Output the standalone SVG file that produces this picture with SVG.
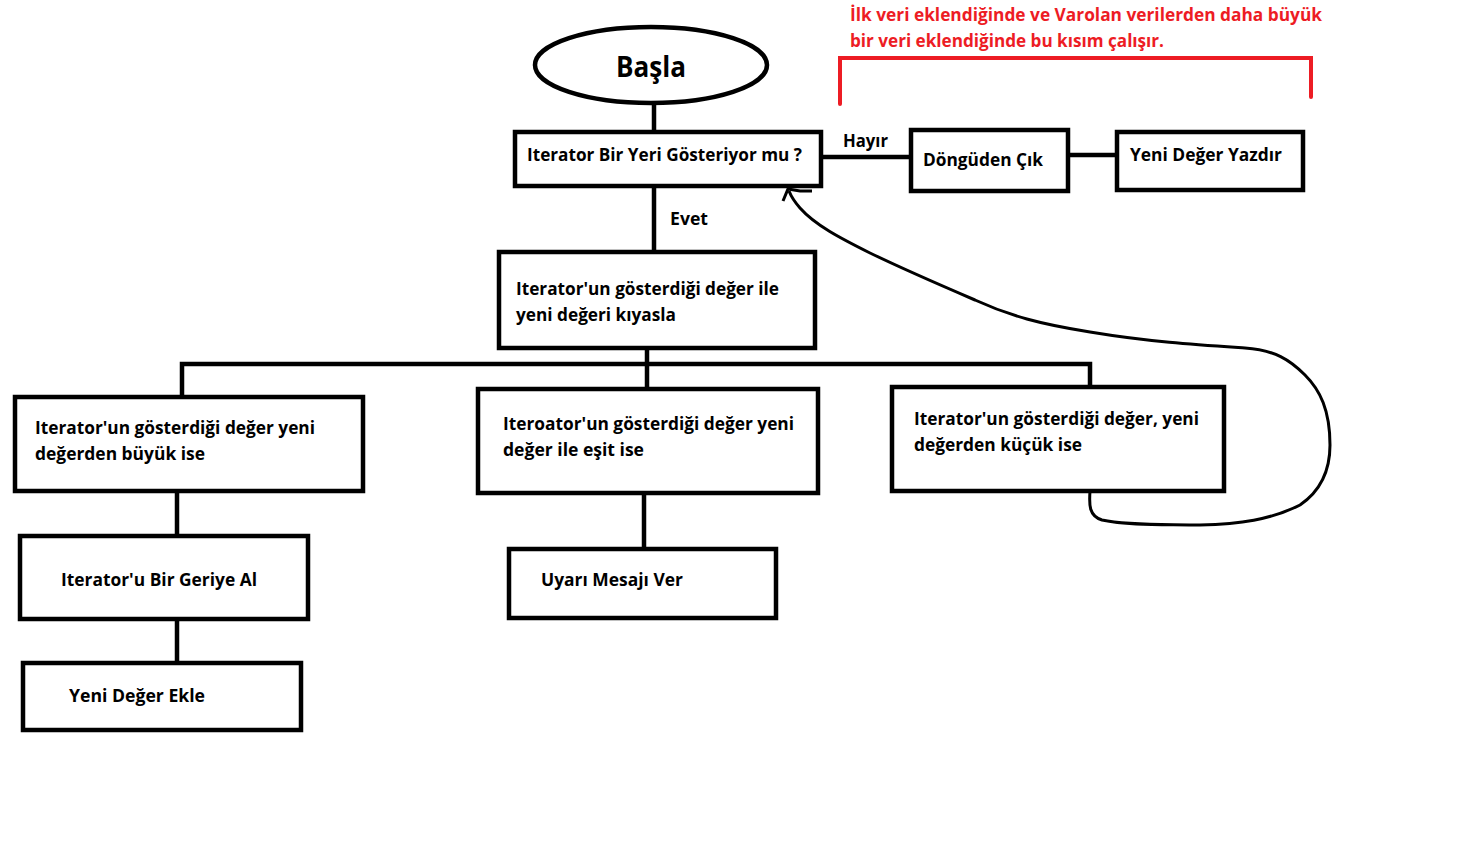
<svg xmlns="http://www.w3.org/2000/svg" width="1476" height="862" viewBox="0 0 1476 862">
<style>
.box{fill:#fff;stroke:#000;stroke-width:4.5}
.ln{fill:none;stroke:#000;stroke-width:4.5}
.t{font-family:"Open Sans","Noto Sans","Liberation Sans",sans-serif;font-weight:700;font-size:18px;fill:#000}
.r{font-family:"Open Sans","Noto Sans","Liberation Sans",sans-serif;font-weight:700;font-size:18px;fill:#ed1c24}
</style>
<rect width="1476" height="862" fill="#fff"/>
<g id="connectors">
<path class="ln" d="M654 103V132"/>
<path class="ln" d="M821 157H911"/>
<path class="ln" d="M1068 155H1117"/>
<path class="ln" d="M654 186V252"/>
<path class="ln" d="M647 348V389"/>
<path class="ln" d="M182 397V364H1090V387"/>
<path class="ln" d="M177 491V536"/>
<path class="ln" d="M177 619V663"/>
<path class="ln" d="M644 493V549"/>
<path fill="none" stroke="#000" stroke-width="3" stroke-linejoin="round" d="M1090 491C1089 505 1089 516 1102 520C1130 526 1170 524 1200 525C1240 524 1270 520 1300 505C1322 490 1330 470 1330 445C1330 410 1320 390 1305 375C1290 360 1275 350 1245 348C1200 345 1150 342 1090 332C1040 324 1010 316 975 300C940 285 905 270 870 253C840 238 815 225 800 208C793 200 791 196 789 191"/>
<path fill="none" stroke="#000" stroke-width="3" d="M783 201L788 189L800 191L812 191"/>
<text class="t" x="843" y="147" textLength="45" lengthAdjust="spacingAndGlyphs">Hayır</text>
<text class="t" x="670" y="225" textLength="38" lengthAdjust="spacingAndGlyphs">Evet</text>
</g>
<g id="note">
<path fill="none" stroke="#ed1c24" stroke-width="4" stroke-linecap="round" d="M840 104V58H1311V97"/>
<text class="r" x="850" y="21" textLength="472" lengthAdjust="spacingAndGlyphs">İlk veri eklendiğinde ve Varolan verilerden daha büyük</text>
<text class="r" x="850" y="47" textLength="314" lengthAdjust="spacingAndGlyphs">bir veri eklendiğinde bu kısım çalışır.</text>
</g>
<g id="basla">
<ellipse class="box" cx="651" cy="65" rx="116" ry="38"/>
<text class="t" x="616" y="77" font-size="28" textLength="70" lengthAdjust="spacingAndGlyphs" style="font-size:28px">Başla</text>
</g>
<g id="kontrol">
<rect class="box" x="515" y="132" width="306" height="54"/>
<text class="t" x="527" y="161" textLength="275" lengthAdjust="spacingAndGlyphs">Iterator Bir Yeri Gösteriyor mu ?</text>
</g>
<g id="dongu">
<rect class="box" x="911" y="130" width="157" height="61"/>
<text class="t" x="923" y="166" textLength="120" lengthAdjust="spacingAndGlyphs">Döngüden Çık</text>
</g>
<g id="yazdir">
<rect class="box" x="1117" y="132" width="186" height="58"/>
<text class="t" x="1130" y="161" textLength="152" lengthAdjust="spacingAndGlyphs">Yeni Değer Yazdır</text>
</g>
<g id="kiyasla">
<rect class="box" x="499" y="252" width="316" height="96"/>
<text class="t" x="516" y="295" textLength="263" lengthAdjust="spacingAndGlyphs">Iterator'un gösterdiği değer ile</text>
<text class="t" x="516" y="321" textLength="160" lengthAdjust="spacingAndGlyphs">yeni değeri kıyasla</text>
</g>
<g id="buyuk">
<rect class="box" x="15" y="397" width="348" height="94"/>
<text class="t" x="35" y="434" textLength="280" lengthAdjust="spacingAndGlyphs">Iterator'un gösterdiği değer yeni</text>
<text class="t" x="35" y="460" textLength="170" lengthAdjust="spacingAndGlyphs">değerden büyük ise</text>
</g>
<g id="esit">
<rect class="box" x="478" y="389" width="340" height="104"/>
<text class="t" x="503" y="430" textLength="291" lengthAdjust="spacingAndGlyphs">Iteroator'un gösterdiği değer yeni</text>
<text class="t" x="503" y="456" textLength="141" lengthAdjust="spacingAndGlyphs">değer ile eşit ise</text>
</g>
<g id="kucuk">
<rect class="box" x="892" y="387" width="332" height="104"/>
<text class="t" x="914" y="425" textLength="285" lengthAdjust="spacingAndGlyphs">Iterator'un gösterdiği değer, yeni</text>
<text class="t" x="914" y="451" textLength="168" lengthAdjust="spacingAndGlyphs">değerden küçük ise</text>
</g>
<g id="geriye">
<rect class="box" x="20" y="536" width="288" height="83"/>
<text class="t" x="61" y="586" textLength="196" lengthAdjust="spacingAndGlyphs">Iterator'u Bir Geriye Al</text>
</g>
<g id="ekle">
<rect class="box" x="23" y="663" width="278" height="67"/>
<text class="t" x="69" y="702" textLength="136" lengthAdjust="spacingAndGlyphs">Yeni Değer Ekle</text>
</g>
<g id="uyari">
<rect class="box" x="509" y="549" width="267" height="69"/>
<text class="t" x="541" y="586" textLength="142" lengthAdjust="spacingAndGlyphs">Uyarı Mesajı Ver</text>
</g>
</svg>
